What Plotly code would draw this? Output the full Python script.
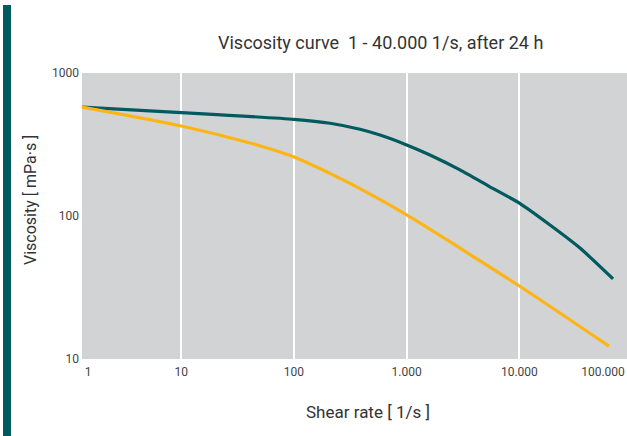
import plotly.graph_objects as go

# Data (shear rate [1/s], viscosity [mPa·s])
shear_teal = [1.31, 10, 100, 209, 385, 580, 1000, 1610, 2970, 5480, 10000, 18700, 34500, 67800]
visc_teal = [578, 529, 474, 445, 404, 368, 314, 267, 210, 160, 123, 86.5, 59.7, 36.3]

shear_yellow = [1.31, 10, 40.8, 75.2, 100, 284, 1000, 3160, 10000, 62400]
visc_yellow = [578, 426, 324, 280, 259, 176, 102, 57.8, 32.4, 12.3]

x_tick_vals = [1.49, 10, 100, 1000, 10000, 55200]
x_tick_text = ["1", "10", "100", "1.000", "10.000", "100.000"]
x_grid_vals = [10, 100, 1000, 10000]
y_tick_vals = [10, 100, 1000]
y_tick_text = ["10", "100", "1000"]

title_text = "Viscosity curve  1 - 40.000 1/s, after 24 h"
x_title = "Shear rate [ 1/s ]"
y_title = "Viscosity [ mPa·s ]"

TEAL = "#005a60"
YELLOW = "#fdb515"
BG = "#d2d3d5"
FONT = "Roboto"

x_range = [0.119, 4.955]

fig = go.Figure()
fig.add_trace(go.Scatter(x=[], y=[], xaxis="x2", yaxis="y", showlegend=False, hoverinfo="skip"))
fig.add_trace(go.Scatter(x=shear_teal, y=visc_teal, mode="lines",
                         line=dict(color=TEAL, width=3.2, shape="spline", smoothing=0.6),
                         showlegend=False))
fig.add_trace(go.Scatter(x=shear_yellow, y=visc_yellow, mode="lines",
                         line=dict(color=YELLOW, width=3.2, shape="spline", smoothing=0.8),
                         showlegend=False))

fig.update_layout(
    width=627, height=436,
    autosize=False,
    margin=dict(l=82, r=0, t=73, b=77, pad=0),
    paper_bgcolor="white",
    plot_bgcolor=BG,
    font=dict(family=FONT, color="#3a3a3a", size=12),
    xaxis=dict(type="log", range=x_range, tickvals=x_tick_vals, ticktext=x_tick_text,
               showgrid=False, zeroline=False, showline=False, ticks="", automargin=False,
               tickfont=dict(size=12, color="#444"), ticklabelstandoff=4),
    xaxis2=dict(type="log", range=x_range, overlaying="x", tickvals=x_grid_vals,
                showgrid=True, gridcolor="white", gridwidth=2, automargin=False,
                showticklabels=False, ticks="", zeroline=False, showline=False),
    yaxis=dict(type="log", range=[1, 3], tickvals=y_tick_vals, ticktext=y_tick_text,
               showgrid=False, zeroline=False, showline=False, ticks="", automargin=False,
               tickfont=dict(size=12, color="#444"), ticklabelstandoff=2),
    shapes=[dict(type="rect", xref="paper", yref="paper",
                 x0=(3 - 82) / 545, x1=(11 - 82) / 545,
                 y0=(359 - 436) / 286, y1=(359 - 5) / 286,
                 fillcolor=TEAL, line=dict(width=0), layer="above")],
    annotations=[
        dict(text=title_text, xref="paper", yref="paper",
             x=(380 - 82) / 545, y=(359 - 42) / 286, showarrow=False,
             font=dict(size=18, color="#333"), xanchor="center", yanchor="middle"),
        dict(text=x_title, xref="paper", yref="paper",
             x=(368 - 82) / 545, y=(359 - 412) / 286, showarrow=False,
             font=dict(size=17, color="#333"), xanchor="center", yanchor="middle"),
        dict(text=y_title, xref="paper", yref="paper", textangle=-90,
             x=(30 - 82) / 545, y=(359 - 200) / 286, showarrow=False,
             font=dict(size=16, color="#333"), xanchor="center", yanchor="middle"),
    ],
)

fig.write_html("out.html", config={"displayModeBar": False},
               post_script="document.body.style.margin='0px';")
